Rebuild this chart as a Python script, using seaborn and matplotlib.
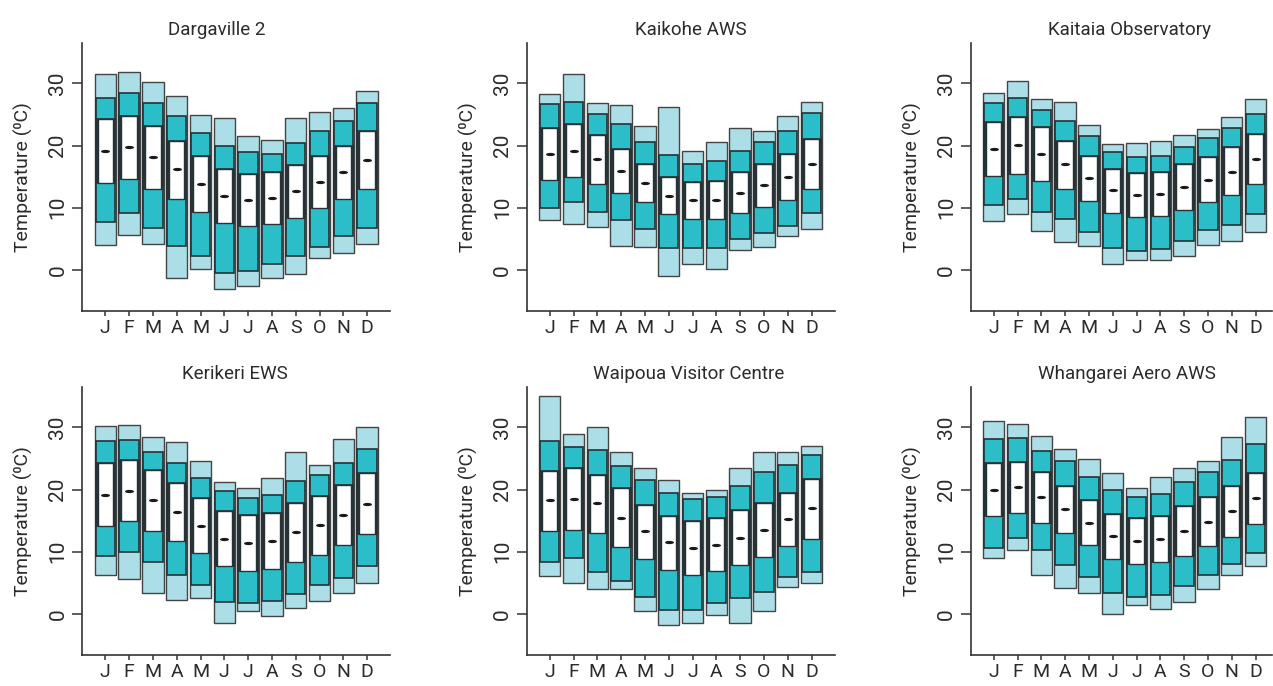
import numpy as np
import pandas as pd
import matplotlib
matplotlib.use("Agg")
import matplotlib.pyplot as plt
from matplotlib.path import Path
from matplotlib.transforms import Affine2D
import seaborn as sns

# ---------------- data ----------------
months = ["Jan", "Feb", "Mar", "Apr", "May", "Jun",
          "Jul", "Aug", "Sep", "Oct", "Nov", "Dec"]
month_letters = ["J", "F", "M", "A", "M", "J", "J", "A", "S", "O", "N", "D"]
stations = ["Dargaville 2", "Kaikohe AWS", "Kaitaia Observatory",
            "Kerikeri EWS", "Waipoua Visitor Centre", "Whangarei Aero AWS"]

dargaville_hi_abs = [31.5, 31.8, 30.3, 28.0, 24.9, 24.4, 21.6, 20.9, 24.5, 25.4, 26.0, 28.8]
dargaville_hi_mon = [27.7, 28.5, 26.9, 24.8, 22.0, 20.0, 18.9, 18.7, 20.4, 22.4, 23.9, 26.8]
dargaville_hi_day = [24.2, 24.7, 23.1, 20.8, 18.4, 16.2, 15.5, 15.7, 16.9, 18.3, 20.0, 22.4]
dargaville_mean = [19.1, 19.8, 18.1, 16.2, 13.8, 11.9, 11.2, 11.6, 12.7, 14.1, 15.7, 17.7]
dargaville_lo_day = [14.0, 14.7, 13.1, 11.4, 9.3, 7.6, 7.0, 7.4, 8.4, 10.0, 11.4, 13.0]
dargaville_lo_mon = [7.7, 9.1, 6.8, 3.8, 2.3, -0.5, -0.2, 1.0, 2.3, 3.7, 5.4, 6.7]
dargaville_lo_abs = [4.0, 5.6, 4.1, -1.3, 0.1, -3.1, -2.5, -1.3, -0.7, 2.0, 2.7, 4.1]

kaikohe_hi_abs = [28.3, 31.5, 26.9, 26.6, 23.1, 26.2, 19.1, 20.5, 22.8, 22.4, 24.8, 27.0]
kaikohe_hi_mon = [26.7, 27.0, 25.1, 23.4, 20.5, 18.5, 17.1, 17.5, 19.2, 20.5, 22.4, 25.2]
kaikohe_hi_day = [22.9, 23.4, 21.7, 19.4, 17.1, 14.9, 14.1, 14.3, 15.7, 17.0, 18.6, 21.1]
kaikohe_mean = [18.7, 19.2, 17.8, 15.9, 14.0, 11.9, 11.2, 11.2, 12.4, 13.6, 15.0, 17.1]
kaikohe_lo_day = [14.4, 15.0, 13.9, 12.4, 10.9, 9.0, 8.2, 8.2, 9.1, 10.2, 11.3, 13.1]
kaikohe_lo_mon = [9.9, 11.0, 9.4, 8.0, 6.6, 3.5, 3.5, 3.5, 4.9, 6.0, 7.1, 9.1]
kaikohe_lo_abs = [8.0, 7.4, 6.9, 3.8, 3.7, -0.9, 0.9, 0.2, 3.2, 3.7, 5.4, 6.6]

kaitaia_hi_abs = [28.5, 30.4, 27.5, 27.0, 23.3, 20.3, 20.4, 20.7, 21.7, 22.7, 24.6, 27.5]
kaitaia_hi_mon = [26.9, 27.6, 25.8, 24.0, 21.5, 19.0, 18.1, 18.4, 19.7, 21.3, 22.9, 25.1]
kaitaia_hi_day = [23.8, 24.6, 23.0, 20.8, 18.4, 16.3, 15.6, 15.7, 17.0, 18.1, 19.7, 21.9]
kaitaia_mean = [19.5, 20.1, 18.6, 17.0, 14.8, 12.8, 12.1, 12.2, 13.3, 14.5, 15.7, 17.8]
kaitaia_lo_day = [15.1, 15.5, 14.3, 13.0, 11.1, 9.2, 8.5, 8.6, 9.6, 10.9, 12.0, 13.8]
kaitaia_lo_mon = [10.5, 11.4, 9.4, 8.2, 6.1, 3.5, 3.1, 3.4, 4.6, 6.4, 7.3, 9.0]
kaitaia_lo_abs = [7.9, 9.0, 6.3, 4.5, 3.8, 0.9, 1.6, 1.6, 2.2, 4.0, 4.7, 6.1]

kerikeri_hi_abs = [30.3, 30.4, 28.4, 27.6, 24.6, 21.3, 20.3, 21.8, 26.0, 24.0, 28.1, 30.1]
kerikeri_hi_mon = [27.8, 28.0, 26.1, 24.3, 21.8, 19.8, 18.7, 19.2, 21.4, 22.3, 24.3, 26.6]
kerikeri_hi_day = [24.3, 24.7, 23.2, 21.0, 18.7, 16.6, 15.9, 16.3, 17.8, 18.9, 20.7, 22.7]
kerikeri_mean = [19.2, 19.8, 18.4, 16.4, 14.2, 12.1, 11.4, 11.7, 13.2, 14.3, 15.9, 17.7]
kerikeri_lo_day = [14.1, 14.9, 13.4, 11.7, 9.8, 7.7, 6.9, 7.2, 8.3, 9.5, 11.1, 12.9]
kerikeri_lo_mon = [9.3, 10.0, 8.4, 6.2, 4.7, 1.9, 1.7, 2.1, 3.2, 4.7, 5.8, 7.7]
kerikeri_lo_abs = [6.2, 5.7, 3.3, 2.3, 2.6, -1.4, 0.4, -0.3, 1.0, 2.1, 3.4, 5.0]

waipoua_hi_abs = [35.0, 29.0, 30.1, 26.0, 23.5, 21.5, 19.5, 20.0, 23.5, 26.0, 26.0, 27.0]
waipoua_hi_mon = [27.8, 26.9, 26.4, 23.8, 21.6, 19.5, 18.5, 18.8, 20.6, 22.8, 24.0, 25.6]
waipoua_hi_day = [23.0, 23.4, 22.4, 20.2, 17.6, 15.8, 15.0, 15.4, 16.7, 17.9, 19.4, 21.7]
waipoua_mean = [18.3, 18.5, 17.9, 15.5, 13.3, 11.5, 10.6, 11.1, 12.2, 13.5, 15.2, 17.0]
waipoua_lo_day = [13.3, 13.5, 13.0, 10.8, 8.9, 7.1, 6.2, 6.9, 7.9, 9.1, 11.0, 12.1]
waipoua_lo_mon = [8.4, 9.0, 6.7, 5.3, 2.7, 0.6, 0.6, 1.7, 2.5, 3.5, 5.9, 6.7]
waipoua_lo_abs = [6.1, 5.0, 4.0, 4.0, 0.4, -1.8, -1.4, -0.2, -1.4, 0.5, 4.3, 5.0]

whangarei_hi_abs = [31.0, 30.5, 28.7, 26.6, 24.9, 22.7, 20.3, 22.1, 23.4, 24.6, 28.5, 31.6]
whangarei_hi_mon = [28.2, 28.3, 26.2, 24.6, 22.1, 20.0, 18.8, 19.3, 21.2, 22.8, 24.8, 27.3]
whangarei_hi_day = [24.3, 24.5, 22.9, 20.6, 18.3, 16.1, 15.4, 15.7, 17.4, 18.8, 20.6, 22.7]
whangarei_mean = [20.0, 20.4, 18.8, 16.8, 14.7, 12.5, 11.8, 12.0, 13.4, 14.8, 16.5, 18.6]
whangarei_lo_day = [15.8, 16.3, 14.7, 13.0, 11.1, 8.9, 8.1, 8.3, 9.3, 10.9, 12.4, 14.5]
whangarei_lo_mon = [10.6, 12.2, 10.3, 7.8, 5.9, 3.4, 2.7, 3.0, 4.5, 6.3, 8.0, 9.8]
whangarei_lo_abs = [9.0, 10.3, 6.2, 4.1, 3.3, 0.0, 1.4, 0.8, 2.0, 4.0, 6.2, 7.7]

y_ticks = [0, 10, 20, 30]
y_label = "Temperature (\u2070C)"

station_data = [
    (dargaville_hi_abs, dargaville_hi_mon, dargaville_hi_day, dargaville_mean,
     dargaville_lo_day, dargaville_lo_mon, dargaville_lo_abs),
    (kaikohe_hi_abs, kaikohe_hi_mon, kaikohe_hi_day, kaikohe_mean,
     kaikohe_lo_day, kaikohe_lo_mon, kaikohe_lo_abs),
    (kaitaia_hi_abs, kaitaia_hi_mon, kaitaia_hi_day, kaitaia_mean,
     kaitaia_lo_day, kaitaia_lo_mon, kaitaia_lo_abs),
    (kerikeri_hi_abs, kerikeri_hi_mon, kerikeri_hi_day, kerikeri_mean,
     kerikeri_lo_day, kerikeri_lo_mon, kerikeri_lo_abs),
    (waipoua_hi_abs, waipoua_hi_mon, waipoua_hi_day, waipoua_mean,
     waipoua_lo_day, waipoua_lo_mon, waipoua_lo_abs),
    (whangarei_hi_abs, whangarei_hi_mon, whangarei_hi_day, whangarei_mean,
     whangarei_lo_day, whangarei_lo_mon, whangarei_lo_abs),
]

# ---------------- style ----------------
sns.set_theme(style="ticks")
plt.rcParams["font.family"] = ["Roboto", "DejaVu Sans"]
TXT = "#2b2b2b"
LIGHT = "#abdee6"
TEAL = "#2bbec8"
DARK = "#263236"
OUTER_EDGE = "#444444"

fig = plt.figure(figsize=(12.73, 6.86), dpi=100)

W = 1273.0
H = 686.0
px_per_unit = 23.8
# axes placement in pixels (left, top, right, bottom)
panel_px = [
    (82, 43, 390, 311), (526.7, 43, 834.5, 311), (970.7, 43, 1272, 311),
    (82, 387, 390, 655), (526.7, 387, 834.5, 655), (970.7, 387, 1272, 655),
]
first_tick_px = [105.3, 549.7, 993.7, 105.3, 549.7, 993.7]
title_center_px = [217, 691, 1130, 235, 689, 1127]

ellipse = Path.unit_circle().transformed(Affine2D().scale(1.0, 0.36))


def layer(ax, lo, hi, width, face, edge, lw):
    df = pd.DataFrame({"month": months, "span": np.array(hi) - np.array(lo)})
    sns.barplot(data=df, x="month", y="span", order=months, bottom=lo,
                width=width, color=face, saturation=1, edgecolor=edge,
                linewidth=lw, errorbar=None, ax=ax)


for i, (name, vals) in enumerate(zip(stations, station_data)):
    hi_abs, hi_mon, hi_day, mean, lo_day, lo_mon, lo_abs = vals
    l, t, r, b = panel_px[i]
    ax = fig.add_axes([l / W, 1 - b / H, (r - l) / W, (b - t) / H])

    layer(ax, lo_abs, hi_abs, 0.90, LIGHT, OUTER_EDGE, 1.0)
    layer(ax, lo_mon, hi_mon, 0.82, TEAL, DARK, 1.2)
    layer(ax, lo_day, hi_day, 0.82, DARK, DARK, 1.2)
    layer(ax, lo_day, hi_day, 0.64, "white", DARK, 1.0)

    mdf = pd.DataFrame({"pos": np.arange(len(months)), "mean": mean})
    sns.scatterplot(data=mdf, x="pos", y="mean", marker=ellipse, s=42,
                    color="#1a1a1a", linewidth=0, ax=ax, zorder=5)

    x0 = (l - first_tick_px[i]) / px_per_unit
    x1 = (r - first_tick_px[i]) / px_per_unit
    ax.set_xlim(x0, x1)
    ax.set_ylim(-6.6, 36.5)
    ax.set_xticks(np.arange(len(months)))
    ax.set_xticklabels(month_letters)
    ax.set_yticks(y_ticks)
    ax.set_yticklabels([str(v) for v in y_ticks], rotation=90, va="center")
    ax.set_xlabel("")
    ax.set_ylabel(y_label, fontsize=14, color=TXT, labelpad=11)
    tx = (title_center_px[i] - l) / (r - l)
    ax.set_title(name, fontsize=13.5, color=TXT, x=tx, pad=6)

    for side in ["top", "right"]:
        ax.spines[side].set_visible(False)
    for side in ["left", "bottom"]:
        ax.spines[side].set_color("#333333")
        ax.spines[side].set_linewidth(1.2)
    ax.tick_params(axis="x", length=3.5, width=1.1, color="#333333",
                   labelsize=14, labelcolor=TXT, pad=2)
    ax.tick_params(axis="y", length=7.5, width=1.1, color="#333333",
                   labelsize=15, labelcolor=TXT, pad=3)
    ax.grid(False)

fig.savefig("out.png", dpi=100)
